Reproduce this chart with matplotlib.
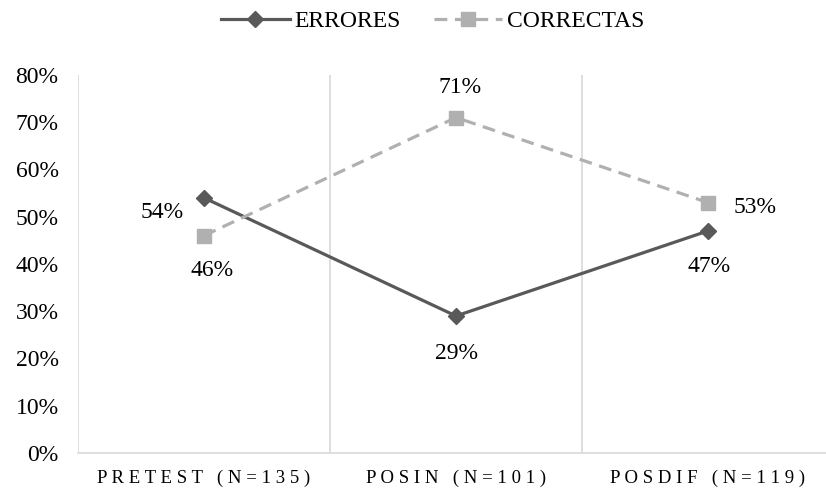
import numpy as np
import matplotlib
matplotlib.use("Agg")
import matplotlib.pyplot as plt

# ---------------- data ----------------
categories = ["PRETEST (N=135)", "POSIN (N=101)", "POSDIF (N=119)"]
errores = [54, 29, 47]
correctas = [46, 71, 53]
yticks = [0, 10, 20, 30, 40, 50, 60, 70, 80]

plt.rcParams['font.family'] = ['Liberation Serif', 'DejaVu Serif']

fig = plt.figure(figsize=(8.26, 4.91), dpi=100)
ax = fig.add_axes([78 / 826, 38 / 491, 756 / 826, 378 / 491])

x = np.arange(len(categories))
c_err = "#595959"
c_cor = "#B0B0B0"

ax.plot(x, errores, color=c_err, lw=2.3, marker="D", markersize=8.5,
        label="ERRORES", zorder=3)
ax.plot(x, correctas, color=c_cor, lw=2.3, ls=(0, (4, 2.4)), marker="s",
        markersize=10.5, label="CORRECTAS", zorder=3)

# data labels (offsets in pixels)
err_off = [(-42, -15), (1, -38), (1, -36)]
cor_off = [(8, -35), (4, 30), (47, -5)]
for i in range(len(x)):
    ax.annotate(f"{errores[i]}%", (x[i], errores[i]), xytext=err_off[i],
                textcoords="offset pixels", ha="center", va="center",
                fontsize=17, color="#000000")
    ax.annotate(f"{correctas[i]}%", (x[i], correctas[i]), xytext=cor_off[i],
                textcoords="offset pixels", ha="center", va="center",
                fontsize=17, color="#000000")

ax.set_xlim(-0.5, 2.5)
ax.set_ylim(0, 80)
ax.set_yticks(yticks)
ax.set_yticklabels([f"{v}%" for v in yticks], fontsize=17)

ax.set_xticks(x)
spaced = [" ".join(c) for c in categories]
ax.set_xticklabels(spaced, fontsize=13.5)

# vertical separators between categories
for b in [-0.5, 0.5, 1.5, 2.5]:
    ax.axvline(b, color="#D9D9D9", lw=1.2, zorder=0)

for s in ["top", "right", "left"]:
    ax.spines[s].set_visible(False)
ax.spines["bottom"].set_color("#D9D9D9")
ax.spines["bottom"].set_linewidth(1.2)
ax.tick_params(axis="both", length=0)
ax.tick_params(axis="y", pad=14)
ax.tick_params(axis="x", pad=12)

fig.legend(loc="upper center", bbox_to_anchor=(0.524, 1.022), ncol=2,
           frameon=False, fontsize=17, handlelength=2.9,
           handletextpad=0.2, columnspacing=1.4)

fig.savefig("out.png", dpi=100)
